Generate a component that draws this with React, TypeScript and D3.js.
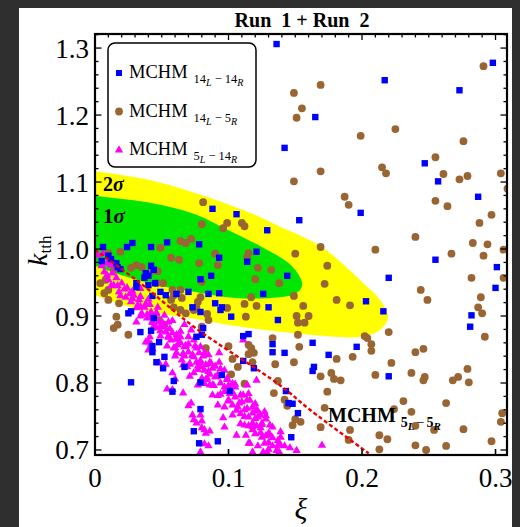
import React, { useEffect } from 'react';
import * as d3 from 'd3';

// MCHM 14_L - 14_R  [xi, k_tth]
const blueSquares: [number, number][] = [
  [0.136, 1.306], [0.298, 1.278], [0.217, 1.252], [0.273, 1.237], [0.165, 1.197], [0.142, 1.151], [0.247, 1.128],
  [0.257, 1.101], [0.287, 1.078], [0.199, 1.054], [0.153, 1.043],
  [0.144, 0.960], [0.220, 0.957], [0.255, 0.984], [0.301, 0.973], [0.300, 0.942], [0.203, 0.922], [0.216, 0.907],
  [0.282, 0.901], [0.281, 0.884], [0.163, 0.860], [0.196, 0.854], [0.142, 0.845], [0.175, 0.842], [0.164, 0.824],
  [0.163, 0.818], [0.220, 0.810], [0.143, 0.788], [0.145, 0.770], [0.148, 0.769], [0.152, 0.755], [0.147, 0.719],
  [0.078, 0.710], [0.092, 0.713],
  [0.088, 1.060], [0.106, 1.052], [0.129, 1.028], [0.121, 0.996], [0.093, 0.987], [0.114, 0.981], [0.079, 0.955],
  [0.087, 0.960], [0.085, 0.933], [0.093, 0.934], [0.126, 0.933], [0.090, 0.919], [0.130, 0.913], [0.095, 0.913],
  [0.094, 0.909], [0.079, 0.906], [0.102, 0.899], [0.137, 0.894], [0.081, 0.882],
  [0.006, 1.003], [0.028, 1.009], [0.024, 1.003], [0.042, 1.003], [0.054, 1.010], [0.078, 1.007], [0.010, 0.990],
  [0.005, 0.982], [0.012, 0.985], [0.016, 0.979], [0.017, 0.973], [0.019, 0.970], [0.042, 0.975], [0.044, 0.969],
  [0.038, 0.964], [0.040, 0.960], [0.037, 0.957], [0.031, 0.949], [0.031, 0.943], [0.040, 0.946], [0.045, 0.949],
  [0.061, 0.933], [0.070, 0.936], [0.049, 0.936], [0.043, 0.930], [0.053, 0.931], [0.073, 0.913], [0.025, 0.904],
  [0.027, 0.907], [0.044, 0.897],
  [0.034, 0.876], [0.042, 0.878], [0.048, 0.861], [0.043, 0.855], [0.043, 0.846], [0.052, 0.839], [0.046, 0.831],
  [0.051, 0.822], [0.027, 0.801], [0.059, 0.803], [0.058, 0.787], [0.067, 0.824], [0.079, 0.761], [0.074, 0.728],
  [0.076, 0.869], [0.080, 0.872],
  [0.111, 0.870], [0.115, 0.873], [0.133, 0.858], [0.133, 0.846], [0.111, 0.833], [0.119, 0.822], [0.095, 0.812],
  [0.079, 0.801], [0.101, 0.788],
];

// MCHM 14_L - 5_R
const brownCircles: [number, number][] = [
  [0.291, 1.273], [0.169, 1.245], [0.149, 1.233], [0.155, 1.210], [0.151, 1.196], [0.225, 1.179], [0.199, 1.169],
  [0.276, 1.161], [0.255, 1.137], [0.215, 1.122], [0.169, 1.116], [0.218, 1.113], [0.261, 1.112], [0.304, 1.113],
  [0.279, 1.109], [0.273, 1.104], [0.149, 1.101], [0.309, 1.090], [0.187, 1.078], [0.255, 1.072], [0.190, 1.066],
  [0.264, 1.064], [0.297, 1.051], [0.288, 1.039], [0.240, 1.018],
  [0.283, 1.009], [0.294, 1.007], [0.169, 1.003], [0.210, 0.999], [0.306, 0.999], [0.150, 0.993], [0.267, 0.993],
  [0.291, 0.990], [0.174, 0.975], [0.172, 0.948], [0.282, 0.957], [0.244, 0.939], [0.289, 0.928], [0.306, 0.957],
  [0.149, 0.930], [0.249, 0.924], [0.181, 0.924], [0.191, 0.916], [0.156, 0.915], [0.287, 0.913], [0.290, 0.904],
  [0.151, 0.900], [0.160, 0.900], [0.157, 0.890], [0.152, 0.872], [0.220, 0.876], [0.202, 0.870], [0.204, 0.867],
  [0.292, 0.869], [0.207, 0.858], [0.207, 0.848], [0.153, 0.854], [0.246, 0.851], [0.240, 0.846], [0.181, 0.836],
  [0.193, 0.839], [0.149, 0.831], [0.222, 0.830], [0.279, 0.821], [0.237, 0.815], [0.210, 0.812], [0.169, 0.810],
  [0.177, 0.815], [0.247, 0.809], [0.246, 0.804], [0.179, 0.806], [0.184, 0.804], [0.272, 0.809], [0.268, 0.804],
  [0.280, 0.801], [0.174, 0.787], [0.231, 0.773], [0.263, 0.770], [0.142, 0.775], [0.172, 0.763], [0.224, 0.761],
  [0.237, 0.757], [0.305, 0.755], [0.150, 0.746], [0.154, 0.742], [0.240, 0.736], [0.169, 0.734], [0.254, 0.730],
  [0.276, 0.731], [0.304, 0.742], [0.191, 0.730], [0.213, 0.722], [0.219, 0.716], [0.190, 0.715], [0.297, 0.713],
  [0.240, 0.707], [0.248, 0.700], [0.213, 0.701], [0.263, 0.706],
  [0.080, 1.037], [0.099, 1.039], [0.096, 1.031], [0.110, 1.039], [0.112, 1.034], [0.090, 0.993], [0.115, 0.994],
  [0.114, 0.988], [0.092, 0.976], [0.078, 0.979], [0.122, 0.972], [0.132, 0.969], [0.120, 0.955], [0.138, 0.949],
  [0.080, 0.951], [0.117, 0.928], [0.079, 0.928], [0.077, 0.921], [0.112, 0.918], [0.121, 0.915], [0.099, 0.912],
  [0.076, 0.912], [0.084, 0.903], [0.113, 0.899], [0.085, 0.894],
  [0.064, 1.012], [0.068, 1.009], [0.072, 1.015], [0.019, 0.996], [0.010, 0.994], [0.057, 0.987], [0.063, 0.984],
  [0.031, 0.976], [0.035, 0.973], [0.027, 0.972], [0.042, 0.967], [0.014, 0.969], [0.047, 0.967], [0.008, 0.954],
  [0.004, 0.949], [0.010, 0.939], [0.007, 0.934], [0.046, 0.949], [0.051, 0.949], [0.058, 0.939], [0.064, 0.939],
  [0.059, 0.931], [0.010, 0.924], [0.018, 0.919], [0.065, 0.927], [0.057, 0.924], [0.059, 0.913], [0.064, 0.909],
  [0.074, 0.909], [0.068, 0.904], [0.016, 0.899], [0.014, 0.882], [0.048, 0.894], [0.052, 0.887],
  [0.017, 0.887], [0.025, 0.872],
  [0.080, 0.884], [0.083, 0.852], [0.100, 0.855], [0.115, 0.857], [0.117, 0.852], [0.115, 0.843], [0.119, 0.845],
  [0.133, 0.867], [0.103, 0.836], [0.107, 0.824], [0.118, 0.831], [0.135, 0.828], [0.102, 0.813], [0.112, 0.799],
  [0.137, 0.803], [0.134, 0.785], [0.144, 0.766], [0.148, 0.737], [0.152, 0.890],
  [0.081, 1.070], [0.049, 1.002],
];

// MCHM 5_L - 14_R
const magentaTriangles: [number, number][] = [
  [0.009, 0.979], [0.007, 0.966], [0.013, 0.964], [0.010, 0.954], [0.016, 0.957], [0.014, 0.946], [0.020, 0.949],
  [0.018, 0.936], [0.024, 0.942], [0.023, 0.928], [0.029, 0.931], [0.027, 0.921], [0.033, 0.924], [0.031, 0.912],
  [0.037, 0.913], [0.035, 0.904], [0.042, 0.906], [0.039, 0.897], [0.044, 0.899], [0.043, 0.890], [0.048, 0.891],
  [0.046, 0.882], [0.052, 0.884],
  [0.031, 0.891], [0.038, 0.861], [0.042, 0.858], [0.043, 0.851], [0.048, 0.830], [0.053, 0.828], [0.058, 0.815],
  [0.060, 0.806], [0.054, 0.791], [0.066, 0.785], [0.072, 0.770], [0.070, 0.766], [0.073, 0.752], [0.074, 0.745],
  [0.076, 0.740], [0.080, 0.733], [0.079, 0.697],
  [0.049, 0.884], [0.053, 0.876], [0.058, 0.875], [0.061, 0.867], [0.064, 0.860], [0.067, 0.854], [0.070, 0.846],
  [0.074, 0.839], [0.076, 0.831], [0.079, 0.824], [0.061, 0.845], [0.065, 0.834], [0.069, 0.824], [0.074, 0.815],
  [0.080, 0.807], [0.059, 0.852], [0.057, 0.864], [0.074, 0.864], [0.079, 0.854], [0.072, 0.879], [0.067, 0.887],
  [0.055, 0.891],
  [0.078, 0.845], [0.085, 0.842], [0.093, 0.845], [0.079, 0.830], [0.086, 0.831], [0.093, 0.831], [0.082, 0.819],
  [0.088, 0.822], [0.097, 0.819], [0.099, 0.807], [0.090, 0.809], [0.084, 0.807], [0.086, 0.797], [0.094, 0.800],
  [0.105, 0.794], [0.114, 0.797], [0.121, 0.804], [0.097, 0.787], [0.105, 0.779], [0.109, 0.782], [0.100, 0.775],
  [0.110, 0.772], [0.114, 0.775], [0.118, 0.764], [0.107, 0.764], [0.112, 0.760], [0.121, 0.760], [0.127, 0.757],
  [0.115, 0.749], [0.122, 0.749], [0.128, 0.746], [0.118, 0.740], [0.125, 0.740], [0.118, 0.730], [0.124, 0.733],
  [0.130, 0.725], [0.125, 0.719], [0.133, 0.718], [0.116, 0.710], [0.127, 0.710], [0.133, 0.706], [0.137, 0.707],
  [0.142, 0.706], [0.136, 0.699], [0.126, 0.697], [0.118, 0.697], [0.085, 0.706], [0.082, 0.730], [0.080, 0.743],
  [0.086, 0.728], [0.151, 0.699], [0.106, 0.722], [0.112, 0.737], [0.129, 0.696],
  [0.040, 0.861], [0.041, 0.869], [0.040, 0.849], [0.058, 0.790], [0.079, 0.752], [0.083, 0.725], [0.096, 0.748],
  [0.097, 0.734], [0.111, 0.864],
  [0.139, 0.707], [0.170, 0.707], [0.082, 0.709], [0.138, 0.697], [0.115, 0.710],
  [0.032, 0.916], [0.038, 0.918], [0.034, 0.900], [0.041, 0.901], [0.046, 0.903], [0.044, 0.885], [0.050, 0.888],
  [0.049, 0.870], [0.055, 0.870], [0.061, 0.872], [0.064, 0.869], [0.054, 0.855], [0.062, 0.857], [0.070, 0.858],
  [0.075, 0.855], [0.060, 0.840], [0.067, 0.840], [0.073, 0.842], [0.081, 0.840], [0.066, 0.827], [0.071, 0.828],
  [0.077, 0.825], [0.083, 0.827], [0.090, 0.825], [0.071, 0.810], [0.086, 0.813], [0.092, 0.812], [0.077, 0.797],
  [0.082, 0.799], [0.089, 0.796], [0.100, 0.796], [0.103, 0.799], [0.088, 0.782], [0.092, 0.781], [0.101, 0.784],
  [0.115, 0.784], [0.092, 0.767], [0.097, 0.764], [0.103, 0.767], [0.120, 0.769], [0.103, 0.752], [0.109, 0.754],
  [0.118, 0.755], [0.124, 0.752], [0.109, 0.739], [0.115, 0.736], [0.121, 0.736], [0.131, 0.737], [0.113, 0.722],
  [0.120, 0.724], [0.128, 0.721], [0.139, 0.719], [0.122, 0.706], [0.130, 0.701], [0.146, 0.703],
  [0.002, 0.991], [0.006, 0.993], [0.005, 0.975], [0.012, 0.976], [0.009, 0.961], [0.012, 0.945], [0.017, 0.945],
  [0.019, 0.930], [0.026, 0.933],
  // dense core of the band
  [0.022, 0.940], [0.028, 0.937], [0.034, 0.941], [0.028, 0.926], [0.034, 0.929], [0.040, 0.925],
  [0.034, 0.914], [0.041, 0.917], [0.047, 0.913], [0.039, 0.902], [0.046, 0.905], [0.052, 0.901],
  [0.043, 0.892], [0.051, 0.889], [0.058, 0.893], [0.049, 0.878], [0.056, 0.881], [0.064, 0.877],
  [0.055, 0.868], [0.062, 0.865], [0.070, 0.869], [0.060, 0.853], [0.068, 0.856], [0.076, 0.852],
  [0.066, 0.844], [0.073, 0.841], [0.082, 0.845], [0.071, 0.829], [0.079, 0.833], [0.087, 0.829],
  [0.077, 0.820], [0.085, 0.817], [0.094, 0.821], [0.083, 0.805], [0.091, 0.809], [0.099, 0.805],
  [0.088, 0.797], [0.097, 0.794], [0.105, 0.798], [0.094, 0.783], [0.103, 0.786], [0.111, 0.782],
  [0.100, 0.773], [0.108, 0.770], [0.116, 0.774], [0.106, 0.759], [0.114, 0.762], [0.122, 0.758],
  [0.112, 0.750], [0.120, 0.747], [0.128, 0.751], [0.118, 0.735], [0.125, 0.738], [0.133, 0.734],
  [0.124, 0.726], [0.131, 0.723], [0.139, 0.727], [0.130, 0.711], [0.137, 0.714],
];

// MCHM 5_L - 5_R prediction (red dashed)
const mchm55Curve: [number, number][] = [
  [0, 0.999], [0.034, 0.949], [0.074, 0.884], [0.139, 0.796], [0.161, 0.760], [0.205, 0.695],
];

// 2 sigma region boundary: upper edge left→tip, lower edge tip→left
const sigma2Boundary: [number, number][] = [
  [0, 1.116], [0.041, 1.103], [0.079, 1.081], [0.116, 1.054], [0.139, 1.033], [0.161, 1.013], [0.176, 0.994],
  [0.201, 0.949], [0.2135, 0.924], [0.2195, 0.8985], [0.2135, 0.879], [0.1985, 0.869], [0.161, 0.872],
  [0.109, 0.884], [0.071, 0.897], [0.034, 0.909], [0, 0.931],
];

// 1 sigma region boundary
const sigma1Boundary: [number, number][] = [
  [0, 1.079], [0.041, 1.069], [0.075, 1.052], [0.100, 1.028], [0.125, 1.003], [0.145, 0.979], [0.1536, 0.958],
  [0.1551, 0.9448], [0.1498, 0.9328], [0.131, 0.927], [0.105, 0.927], [0.075, 0.936], [0.049, 0.945],
  [0.026, 0.957], [0, 0.975],
];

const xTickValues = [0, 0.1, 0.2, 0.3];
const xTickLabels = ['0', '0.1', '0.2', '0.3'];
const yTickValues = [0.7, 0.8, 0.9, 1.0, 1.1, 1.2, 1.3];
const yTickLabels = ['0.7', '0.8', '0.9', '1.0', '1.1', '1.2', '1.3'];

const legendItems = [
  { sup: ['14', 'L', '14', 'R'], color: '#0000ff', shape: 'square' },
  { sup: ['14', 'L', '5', 'R'], color: '#996633', shape: 'circle' },
  { sup: ['5', 'L', '14', 'R'], color: '#ff00ff', shape: 'triangle' },
];

const SERIF = '"Liberation Serif", "Times New Roman", serif';

const App = () => {
  useEffect(() => {
    document.body.style.margin = '0';
  }, []);

  const width = 520, height = 527;
  const plot = { left: 95, right: 507, top: 34, bottom: 455 };

  const x = d3.scaleLinear().domain([0, 0.3086]).range([plot.left, plot.right]);
  const y = d3.scaleLinear().domain([0.6925, 1.321]).range([plot.bottom, plot.top]);

  const regionLine = d3.line<[number, number]>()
    .x(d => x(d[0]))
    .y(d => y(d[1]))
    .curve(d3.curveCatmullRom.alpha(0.5));

  const tri = d3.symbol().type(d3.symbolTriangle).size(30)();
  const sq = 6.4;

  const xMinor = x.ticks(31);
  const yMinor = y.ticks(30);

  return (
    <svg width={width} height={height} style={{ position: 'absolute', left: 0, top: 0, display: 'block' }}
      fontFamily={SERIF}>
      <defs>
        <clipPath id="plotClip">
          <rect x={plot.left} y={plot.top} width={plot.right - plot.left} height={plot.bottom - plot.top} />
        </clipPath>
      </defs>
      <rect x={0} y={0} width={width} height={height} fill="#2f2f2f" />
      <rect x={19} y={8} width={493} height={height - 8} fill="#ffffff" />

      {/* title */}
      <text x={302} y={27} textAnchor="middle" fontSize={20} fontWeight="bold" style={{ whiteSpace: 'pre' }}>
        {'Run  1 + Run  2'}
      </text>

      <g clipPath="url(#plotClip)">
        <path d={regionLine(sigma2Boundary) + 'Z'} fill="#ffff00" />
        <path d={regionLine(sigma1Boundary) + 'Z'} fill="#00e600" />

        {brownCircles.map((d, i) => (
          <circle key={'b' + i} cx={x(d[0])} cy={y(d[1])} r={3.9} fill="#996633" />
        ))}
        {magentaTriangles.map((d, i) => (
          <path key={'m' + i} d={tri!} transform={`translate(${x(d[0])},${y(d[1])})`} fill="#ff00ff" />
        ))}
        {blueSquares.map((d, i) => (
          <rect key={'s' + i} x={x(d[0]) - sq / 2} y={y(d[1]) - sq / 2} width={sq} height={sq} fill="#0000ff" />
        ))}

        <path d={regionLine(mchm55Curve)!} fill="none" stroke="#ee0000" strokeWidth={2.4} strokeDasharray="4,2.5" />
      </g>

      {/* sigma labels */}
      <text x={103} y={191} fontSize={20} fontWeight="bold">2<tspan fontStyle="italic">σ</tspan></text>
      <text x={103} y={223} fontSize={21} fontWeight="bold">1<tspan fontStyle="italic">σ</tspan></text>

      {/* MCHM 5L-5R annotation */}
      <text x={328} y={422} fontSize={20} fontWeight="bold">
        MCHM
        <tspan dx={5} dy={5} fontSize={14}>5</tspan>
        <tspan dy={3} fontSize={11} fontStyle="italic">L</tspan>
        <tspan dx={2} dy={-3} fontSize={14} fontWeight="normal">−</tspan>
        <tspan dx={2} fontSize={14}>5</tspan>
        <tspan dy={3} fontSize={11} fontStyle="italic">R</tspan>
      </text>

      {/* frame */}
      <rect x={plot.left} y={plot.top} width={plot.right - plot.left} height={plot.bottom - plot.top}
        fill="none" stroke="#000" strokeWidth={2.2} />

      {/* ticks */}
      {xMinor.map((t, i) => {
        const major = Math.abs(t * 10 - Math.round(t * 10)) < 1e-6;
        return <line key={'xt' + i} x1={x(t)} x2={x(t)} y1={plot.top} y2={plot.top + (major ? 6 : 3.5)} stroke="#000" strokeWidth={1.3} />;
      })}
      {xTickValues.map((t, i) => (
        <line key={'xb' + i} x1={x(t)} x2={x(t)} y1={plot.bottom} y2={plot.bottom - 6} stroke="#000" strokeWidth={1.6} />
      ))}
      {yMinor.map((t, i) => {
        const major = Math.abs(t * 10 - Math.round(t * 10)) < 1e-6;
        const len = major ? 6.5 : 3.5;
        return (
          <g key={'yt' + i}>
            <line x1={plot.left} x2={plot.left + len} y1={y(t)} y2={y(t)} stroke="#000" strokeWidth={1.3} />
            <line x1={plot.right} x2={plot.right - len} y1={y(t)} y2={y(t)} stroke="#000" strokeWidth={1.3} />
          </g>
        );
      })}

      {/* tick labels */}
      {xTickValues.map((t, i) => (
        <text key={'xl' + i} x={x(t)} y={487} textAnchor="middle" fontSize={27}>{xTickLabels[i]}</text>
      ))}
      {yTickValues.map((t, i) => (
        <text key={'yl' + i} x={89} y={y(t) + 9.5} textAnchor="end" fontSize={27}>{yTickLabels[i]}</text>
      ))}

      {/* axis titles */}
      <text x={301} y={519} textAnchor="middle" fontSize={30} fontStyle="italic">ξ</text>
      <text transform="translate(47,266) rotate(-90)" fontSize={28}>
        <tspan fontStyle="italic">k</tspan>
        <tspan fontSize={17} dy={4}>tth</tspan>
      </text>

      {/* legend */}
      <rect x={108} y={43} width={148} height={124} rx={7} ry={7} fill="#fff" stroke="#000" strokeWidth={1.5} />
      {legendItems.map((it, i) => {
        const by = 78 + i * 38.5;
        const mx = 119, my = by - 5;
        return (
          <g key={'lg' + i}>
            {it.shape === 'square' && <rect x={mx - 3} y={my - 3} width={6} height={6} fill={it.color} />}
            {it.shape === 'circle' && <circle cx={mx} cy={my} r={3.9} fill={it.color} />}
            {it.shape === 'triangle' && <path d={tri!} transform={`translate(${mx},${my})`} fill={it.color} />}
            <text x={129} y={by} fontSize={18.5}>
              MCHM
              <tspan dx={6} dy={5} fontSize={12.5}>{it.sup[0]}</tspan>
              <tspan dy={3} fontSize={10} fontStyle="italic">{it.sup[1]}</tspan>
              <tspan dx={3} dy={-3} fontSize={12.5}>−</tspan>
              <tspan dx={3} fontSize={12.5}>{it.sup[2]}</tspan>
              <tspan dy={3} fontSize={10} fontStyle="italic">{it.sup[3]}</tspan>
            </text>
          </g>
        );
      })}
    </svg>
  );
};

export default App;
